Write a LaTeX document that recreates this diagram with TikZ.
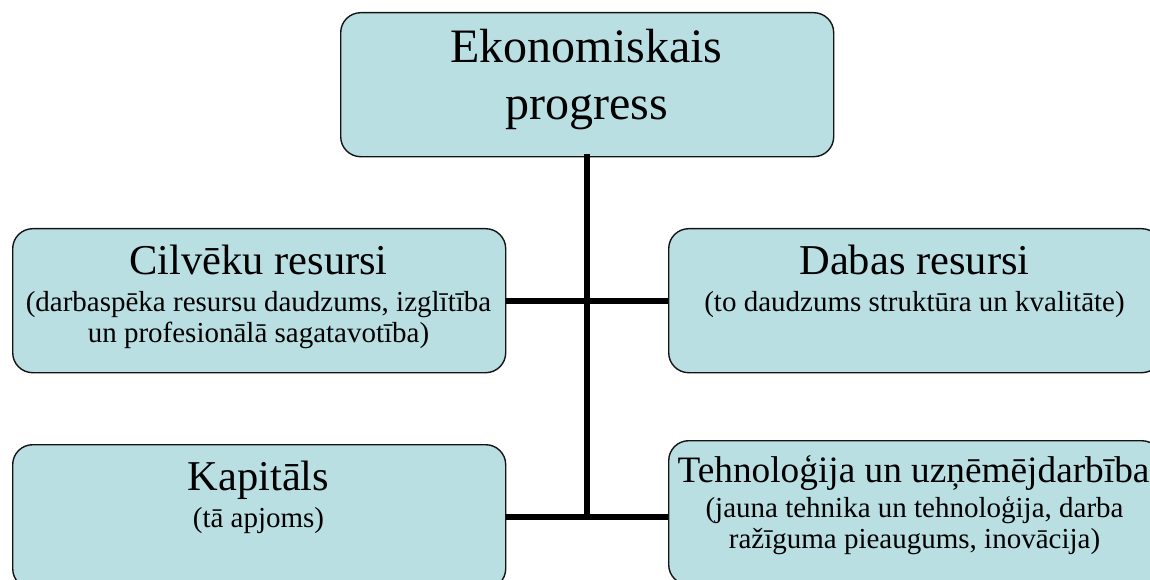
\documentclass[tikz,border=0pt]{standalone}
\usepackage{fontspec}
\setmainfont{Liberation Serif}
\definecolor{boxfill}{RGB}{185,223,227}
\definecolor{boxline}{RGB}{20,20,20}
\begin{document}
\begin{tikzpicture}[x=1bp,y=-1bp,
  box/.style={draw=boxline, line width=1.4bp, fill=boxfill, rounded corners=20bp,
    minimum width=493bp, minimum height=144bp, inner sep=0pt, anchor=north west},
  conn/.style={line width=6bp, draw=black},
  bigtxt/.style={anchor=base, inner sep=0pt, font=\fontsize{48bp}{57bp}\selectfont},
  midtxt/.style={anchor=base, inner sep=0pt, font=\fontsize{42.5bp}{50bp}\selectfont},
  tectxt/.style={anchor=base, inner sep=0pt, font=\fontsize{37.3bp}{44bp}\selectfont},
  subtxt/.style={anchor=base, inner sep=0pt, font=\fontsize{29bp}{31bp}\selectfont}]
\useasboundingbox (0,0) rectangle (1150,580);
\clip (0,0) rectangle (1150,580);

% boxes
\node[box] (top) at (340,12) {};
\node[box] (cil) at (12,228) {};
\node[box] (dab) at (668,228) {};
\node[box] (kap) at (12,444) {};
\node[box] (tec) at (668,440) {};

% connectors
\draw[conn] (cil.east) -- (dab.west);
\draw[conn] (kap.east) -- (kap.east -| tec.west);
\draw[conn, line cap=rect] (top.south) -- (top.south |- kap.east);

% texts
\node[bigtxt] (t1) at (586.5,63) {Ekonomiskais};
\node[bigtxt] (t2) at (586.5,120) {progress};

\node[midtxt] (c1) at (258.5,275) {Cilvēku resursi};
\node[subtxt] (c2) at (258.5,312) {(darbaspēka resursu daudzums, izglītība};
\node[subtxt] (c3) at (258.5,343) {un profesionālā sagatavotība)};

\node[midtxt] (d1) at (914.5,275) {Dabas resursi};
\node[subtxt] (d2) at (914.5,312) {(to daudzums struktūra un kvalitāte)};

\node[midtxt] (k1) at (258.5,490) {Kapitāls};
\node[subtxt] (k2) at (258.5,527) {(tā apjoms)};

\node[tectxt] (e1) at (913.5,482) {Tehnoloģija un uzņēmējdarbība};
\node[subtxt] (e2) at (914.5,517) {(jauna tehnika un tehnoloģija, darba};
\node[subtxt] (e3) at (914.5,548) {ražīguma pieaugums, inovācija)};
\end{tikzpicture}
\end{document}
